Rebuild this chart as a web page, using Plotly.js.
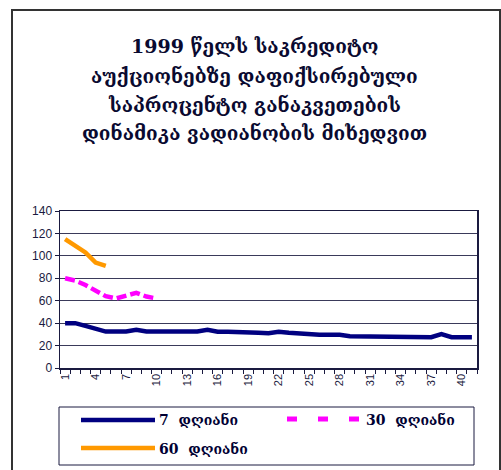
<!DOCTYPE html>
<html>
<head>
<meta charset="utf-8">
<script src="https://cdn.plot.ly/plotly-3.0.1.min.js"></script>
<style>
html,body{margin:0;padding:0;background:#fff;}
#wrap{position:relative;width:501px;height:470px;}
#chart{width:501px;height:470px;}
#frame{position:absolute;left:11px;top:9px;width:490px;height:470px;border-left:2px solid #333;border-top:2px solid #333;border-right:2px solid #333;box-sizing:border-box;pointer-events:none;}
</style>
</head>
<body>
<div id="wrap"><div id="chart"></div><div id="frame"></div></div>
<script>
// Data
const days = [1,2,3,4,5,6,7,8,9,10,11,12,13,14,15,16,17,18,19,20,21,22,23,24,25,26,27,28,29,30,31,32,33,34,35,36,37,38,39,40,41];
const rate7 = [40,40,37.5,34.5,32.5,32.5,32.5,34,32.5,32.5,32.5,32.5,32.5,32.5,34,32.3,32.3,32.3,32.3,31.5,31,32.3,31.4,30.5,30.5,29.6,29.6,29.6,28.4,28.4,27.5,27.5,27.5,27.5,27.5,27.5,27.5,30.2,27.5,27.5,27.5];
const days30 = [1,2,3,4,5,6,7,8,9,10];
const rate30 = [80,78,74,69,64,62,64,67,63.7,62];
const days60 = [1,2,3,4,5];
const rate60 = [115,109,103,94,91];
const xTickVals = [1,4,7,10,13,16,19,22,25,28,31,34,37,40];
const yTickVals = [0,20,40,60,80,100,120,140];
const seriesNames = ['7  დღიანი','30  დღიანი','60  დღიანი'];
const titleLines = ['1999 წელს საკრედიტო','აუქციონებზე დაფიქსირებული','საპროცენტო განაკვეთების','დინამიკა ვადიანობის მიხედვით'];

const navy = '#000080', magenta = '#FF00FF', orange = '#FF9900';
const axisCol = '#1a1a40';

const traces = [
  {x: days, y: rate7, type:'scatter', mode:'lines', name: seriesNames[0], line:{color:navy, width:4.5}},
  {x: days30, y: rate30, type:'scatter', mode:'lines', name: seriesNames[1], line:{color:magenta, width:4.5, dash:'10px,4px'}},
  {x: days60, y: rate60, type:'scatter', mode:'lines', name: seriesNames[2], line:{color:orange, width:4.5}}
];

// plot area in pixels: x 60..477, y 211..368
const L=60, R=477, T=211, B=368;
const px = v => (v - L)/(R - L);
const py = v => (B - v)/(B - T);

const legFont = {family:'DejaVu Serif, Liberation Serif, serif', size:14, color:'#000033', weight:'bold'};
const titleFont = {family:'DejaVu Serif, Liberation Serif, serif', size:19, color:'#0a0a30', weight:'bold'};
const shapes = [
  {type:'rect', xref:'paper', yref:'paper', x0:px(59), x1:px(474), y0:py(407), y1:py(465), line:{color:'#1a1a40', width:1}, fillcolor:'rgba(0,0,0,0)'},
  {type:'line', xref:'paper', yref:'paper', x0:px(81), x1:px(155), y0:py(420), y1:py(420), line:{color:navy, width:4.5}},
  {type:'line', xref:'paper', yref:'paper', x0:px(81), x1:px(155), y0:py(448), y1:py(448), line:{color:orange, width:4.5}},
  {type:'line', xref:'paper', yref:'paper', x0:px(287), x1:px(297), y0:py(419), y1:py(419), line:{color:magenta, width:5}},
  {type:'line', xref:'paper', yref:'paper', x0:px(318), x1:px(328), y0:py(419), y1:py(419), line:{color:magenta, width:5}},
  {type:'line', xref:'paper', yref:'paper', x0:px(349), x1:px(359), y0:py(419), y1:py(419), line:{color:magenta, width:5}}
];
const annotations = [
  {xref:'paper', yref:'paper', x:px(157), y:py(420), xanchor:'left', yanchor:'middle', text:seriesNames[0], showarrow:false, font:legFont},
  {xref:'paper', yref:'paper', x:px(364), y:py(420), xanchor:'left', yanchor:'middle', text:seriesNames[1], showarrow:false, font:legFont},
  {xref:'paper', yref:'paper', x:px(157), y:py(449), xanchor:'left', yanchor:'middle', text:seriesNames[2], showarrow:false, font:legFont}
];
const titleCenters = [46, 76, 105, 133];
titleLines.forEach((t, i) => {
  annotations.push({xref:'paper', yref:'paper', x:px(254), y:py(titleCenters[i]), xanchor:'center', yanchor:'middle',
    text:t, showarrow:false, font:titleFont});
});

const layout = {
  width:501, height:470,
  margin:{l:L, r:501-R, t:T, b:470-B, pad:0},
  paper_bgcolor:'#fff', plot_bgcolor:'#fff',
  showlegend:false,
  xaxis:{range:[0.5,41.5], tickmode:'array', tickvals:xTickVals, ticktext:xTickVals.map(String),
         tickangle:-90, ticks:'', showgrid:false, zeroline:false,
         showline:true, linecolor:axisCol, linewidth:1.5, mirror:true,
         tickfont:{family:'Liberation Sans, Arial, sans-serif', size:11, color:'#1a1a40'},
         minor:{tick0:0.5, dtick:1, ticks:'outside', ticklen:4, tickcolor:axisCol, showgrid:false}},
  yaxis:{range:[0,140], tickmode:'array', tickvals:yTickVals, ticks:'outside', ticklen:4, tickcolor:axisCol,
         showgrid:true, gridcolor:'#3a3a5a', gridwidth:1, zeroline:false,
         showline:true, linecolor:axisCol, linewidth:1.5, mirror:true,
         tickfont:{family:'Liberation Sans, Arial, sans-serif', size:12, color:'#1a1a40'}},
  shapes: shapes,
  annotations: annotations
};

Plotly.newPlot('chart', traces, layout, {displayModeBar:false, staticPlot:true});
</script>
</body>
</html>
